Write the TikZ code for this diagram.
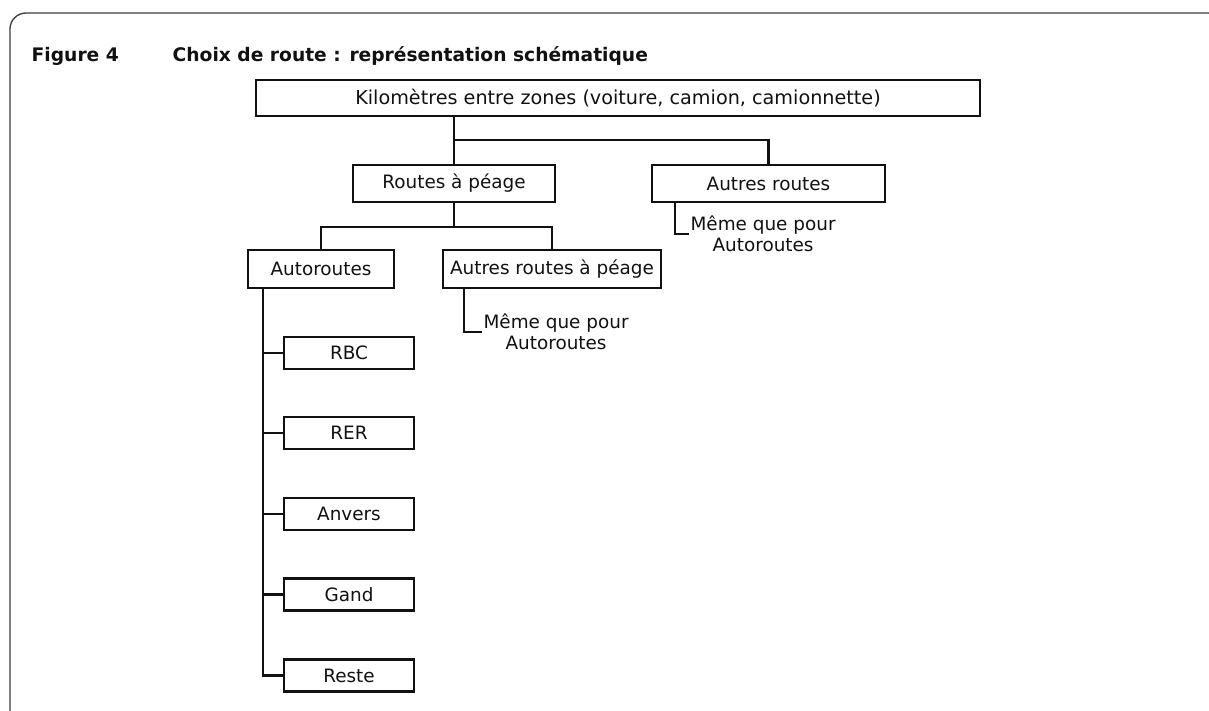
\documentclass[tikz,border=0pt]{standalone}
\usepackage{fontspec}
\setmainfont{DejaVu Sans}
\usepackage{xcolor}
\definecolor{chartink}{HTML}{111111}
\definecolor{framegray}{HTML}{3A3A3A}

\tikzset{
  routebox/.style={draw=chartink, line width=2pt, inner sep=0pt,
    font=\fontsize{13.8pt}{15.5pt}\selectfont},
  smallbox/.style={routebox, minimum width=97.5pt, minimum height=24pt},
  notetext/.style={align=center, inner sep=1pt,
    font=\fontsize{13.8pt}{15.5pt}\selectfont},
  link/.style={draw=chartink, line width=2pt}
}

\begin{document}
\begin{tikzpicture}[
  x=0.75pt,
  y=-0.75pt,
  every node/.style={text=chartink}
]
  \useasboundingbox (0,0) rectangle (1209,710);
  \begin{scope}
    \clip (0,0) rectangle (1209,710);
    \draw[framegray, line width=1pt, rounded corners=12pt]
      (10,725) -- (10,13) -- (1224,13) -- (1224,725);
  \end{scope}

  \node[anchor=base west, font=\fontsize{14pt}{16pt}\selectfont\bfseries]
    (fignum) at (27,61) {Figure 4};
  \node[anchor=base west, font=\fontsize{14pt}{16pt}\selectfont\bfseries]
    (figtitle) at (168,61) {Choix de route : représentation schématique};

  \node[routebox, minimum width=543pt, minimum height=27pt,
    font=\fontsize{14.4pt}{16pt}\selectfont]
    (kmzones) at (618,98) {Kilomètres entre zones (voiture, camion, camionnette)};
  \node[routebox, minimum width=151.5pt, minimum height=27.75pt]
    (peage) at (454,183.5) {Routes à péage};
  \node[routebox, minimum width=174.75pt, minimum height=27.75pt]
    (autres) at (768.5,183.5) {Autres routes};
  \node[routebox, minimum width=109.5pt, minimum height=28.5pt]
    (autoroutes) at (321,269) {Autoroutes};
  \node[routebox, minimum width=163.5pt, minimum height=28.5pt]
    (autrespeage) at (552,269) {Autres routes à péage};

  \node[smallbox] (rbc) at (349,353) {RBC};
  \node[smallbox] (rer) at (349,433) {RER};
  \node[smallbox] (anvers) at (349,514) {Anvers};
  \node[smallbox] (gand) at (349,594.5) {Gand};
  \node[smallbox] (reste) at (349,675.5) {Reste};

  \node[notetext, anchor=west] (notepeage) at (482,332) {Même que pour\\Autoroutes};
  \node[notetext, anchor=west] (noteautres) at (689,234) {Même que pour\\Autoroutes};

  % bus lines and stems
  \coordinate (busA) at (618,140);
  \coordinate (busB) at (454,227);
  \coordinate (stemA) at (263,0);
  \coordinate (stemB) at (464,0);
  \coordinate (stemC) at (675,0);

  \draw[link] (kmzones.south -| peage.north) -- (peage.north);
  \draw[link] (peage.north |- busA) -| (autres.north);
  \draw[link] (peage.south) -- (busB);
  \draw[link] (autoroutes.north) |- (busB) -| (autrespeage.north);

  \draw[link] (autoroutes.south -| stemA) |- (reste.west);
  \foreach \zone in {rbc,rer,anvers,gand}
    \draw[link] (stemA |- \zone) -- (\zone.west);

  \draw[link] (autrespeage.south -| stemB) |- (notepeage.west);
  \draw[link] (autres.south -| stemC) |- (noteautres.west);
\end{tikzpicture}
\end{document}
